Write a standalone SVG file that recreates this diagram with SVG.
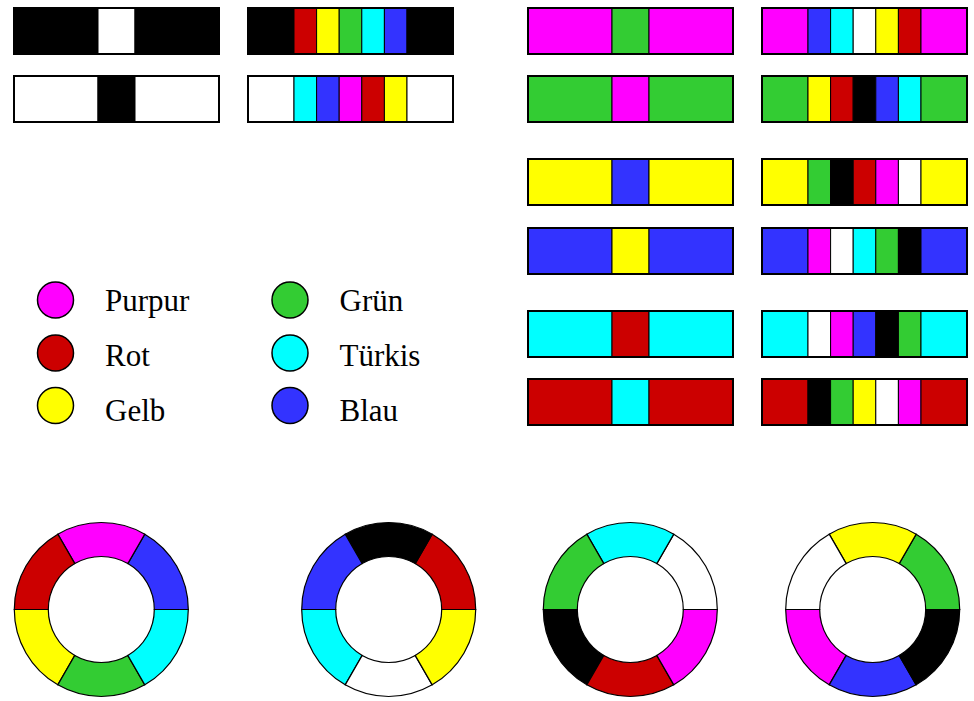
<svg xmlns="http://www.w3.org/2000/svg" width="974" height="701" viewBox="0 0 974 701">
<style>
.s{stroke:#000;stroke-width:1}
.o{fill:none;stroke:#000;stroke-width:2}
.k{fill:#000}.w{fill:#fff}.m{fill:#ff00ff}.g{fill:#33cc33}.r{fill:#cc0000}.y{fill:#ffff00}.c{fill:#00ffff}.b{fill:#3333ff}
.lc{stroke:#000;stroke-width:1.5}
.t{font-family:"Liberation Serif","Times New Roman",serif;font-size:31px;fill:#000}
.ring use{stroke:#000;stroke-width:1.2}
</style>
<defs>
<path id="s0" d="M87,0 A87,87 0 0,0 43.5,-75.34 L26.5,-45.9 A53,53 0 0,1 53,0 Z"/>
<path id="s1" d="M43.5,-75.34 A87,87 0 0,0 -43.5,-75.34 L-26.5,-45.9 A53,53 0 0,1 26.5,-45.9 Z"/>
<path id="s2" d="M-43.5,-75.34 A87,87 0 0,0 -87,0 L-53,0 A53,53 0 0,1 -26.5,-45.9 Z"/>
<path id="s3" d="M-87,0 A87,87 0 0,0 -43.5,75.34 L-26.5,45.9 A53,53 0 0,1 -53,0 Z"/>
<path id="s4" d="M-43.5,75.34 A87,87 0 0,0 43.5,75.34 L26.5,45.9 A53,53 0 0,1 -26.5,45.9 Z"/>
<path id="s5" d="M43.5,75.34 A87,87 0 0,0 87,0 L53,0 A53,53 0 0,1 26.5,45.9 Z"/>
</defs>

<!-- three-segment bars -->
<g id="bar-kwk" transform="translate(14,8)">
<rect class="s k" x="0" y="0" width="84" height="46"/><rect class="s w" x="84" y="0" width="37" height="46"/><rect class="s k" x="121" y="0" width="84" height="46"/><rect class="o" x="0" y="0" width="205" height="46"/>
</g>
<g id="bar-wkw" transform="translate(14,76)">
<rect class="s w" x="0" y="0" width="84" height="46"/><rect class="s k" x="84" y="0" width="37" height="46"/><rect class="s w" x="121" y="0" width="84" height="46"/><rect class="o" x="0" y="0" width="205" height="46"/>
</g>
<g id="bar-mgm" transform="translate(528,8)">
<rect class="s m" x="0" y="0" width="84" height="46"/><rect class="s g" x="84" y="0" width="37" height="46"/><rect class="s m" x="121" y="0" width="84" height="46"/><rect class="o" x="0" y="0" width="205" height="46"/>
</g>
<g id="bar-gmg" transform="translate(528,76)">
<rect class="s g" x="0" y="0" width="84" height="46"/><rect class="s m" x="84" y="0" width="37" height="46"/><rect class="s g" x="121" y="0" width="84" height="46"/><rect class="o" x="0" y="0" width="205" height="46"/>
</g>
<g id="bar-yby" transform="translate(528,159)">
<rect class="s y" x="0" y="0" width="84" height="46"/><rect class="s b" x="84" y="0" width="37" height="46"/><rect class="s y" x="121" y="0" width="84" height="46"/><rect class="o" x="0" y="0" width="205" height="46"/>
</g>
<g id="bar-byb" transform="translate(528,228)">
<rect class="s b" x="0" y="0" width="84" height="46"/><rect class="s y" x="84" y="0" width="37" height="46"/><rect class="s b" x="121" y="0" width="84" height="46"/><rect class="o" x="0" y="0" width="205" height="46"/>
</g>
<g id="bar-crc" transform="translate(528,311)">
<rect class="s c" x="0" y="0" width="84" height="46"/><rect class="s r" x="84" y="0" width="37" height="46"/><rect class="s c" x="121" y="0" width="84" height="46"/><rect class="o" x="0" y="0" width="205" height="46"/>
</g>
<g id="bar-rcr" transform="translate(528,379)">
<rect class="s r" x="0" y="0" width="84" height="46"/><rect class="s c" x="84" y="0" width="37" height="46"/><rect class="s r" x="121" y="0" width="84" height="46"/><rect class="o" x="0" y="0" width="205" height="46"/>
</g>

<!-- seven-segment bars -->
<g id="bar-k-spectrum" transform="translate(248,8)">
<rect class="s k" x="0" y="0" width="46" height="46"/><rect class="s r" x="46" y="0" width="22.6" height="46"/><rect class="s y" x="68.6" y="0" width="22.6" height="46"/><rect class="s g" x="91.2" y="0" width="22.6" height="46"/><rect class="s c" x="113.8" y="0" width="22.6" height="46"/><rect class="s b" x="136.4" y="0" width="22.6" height="46"/><rect class="s k" x="159" y="0" width="46" height="46"/><rect class="o" x="0" y="0" width="205" height="46"/>
</g>
<g id="bar-w-spectrum" transform="translate(248,76)">
<rect class="s w" x="0" y="0" width="46" height="46"/><rect class="s c" x="46" y="0" width="22.6" height="46"/><rect class="s b" x="68.6" y="0" width="22.6" height="46"/><rect class="s m" x="91.2" y="0" width="22.6" height="46"/><rect class="s r" x="113.8" y="0" width="22.6" height="46"/><rect class="s y" x="136.4" y="0" width="22.6" height="46"/><rect class="s w" x="159" y="0" width="46" height="46"/><rect class="o" x="0" y="0" width="205" height="46"/>
</g>
<g id="bar-m-spectrum" transform="translate(762,8)">
<rect class="s m" x="0" y="0" width="46" height="46"/><rect class="s b" x="46" y="0" width="22.6" height="46"/><rect class="s c" x="68.6" y="0" width="22.6" height="46"/><rect class="s w" x="91.2" y="0" width="22.6" height="46"/><rect class="s y" x="113.8" y="0" width="22.6" height="46"/><rect class="s r" x="136.4" y="0" width="22.6" height="46"/><rect class="s m" x="159" y="0" width="46" height="46"/><rect class="o" x="0" y="0" width="205" height="46"/>
</g>
<g id="bar-g-spectrum" transform="translate(762,76)">
<rect class="s g" x="0" y="0" width="46" height="46"/><rect class="s y" x="46" y="0" width="22.6" height="46"/><rect class="s r" x="68.6" y="0" width="22.6" height="46"/><rect class="s k" x="91.2" y="0" width="22.6" height="46"/><rect class="s b" x="113.8" y="0" width="22.6" height="46"/><rect class="s c" x="136.4" y="0" width="22.6" height="46"/><rect class="s g" x="159" y="0" width="46" height="46"/><rect class="o" x="0" y="0" width="205" height="46"/>
</g>
<g id="bar-y-spectrum" transform="translate(762,159)">
<rect class="s y" x="0" y="0" width="46" height="46"/><rect class="s g" x="46" y="0" width="22.6" height="46"/><rect class="s k" x="68.6" y="0" width="22.6" height="46"/><rect class="s r" x="91.2" y="0" width="22.6" height="46"/><rect class="s m" x="113.8" y="0" width="22.6" height="46"/><rect class="s w" x="136.4" y="0" width="22.6" height="46"/><rect class="s y" x="159" y="0" width="46" height="46"/><rect class="o" x="0" y="0" width="205" height="46"/>
</g>
<g id="bar-b-spectrum" transform="translate(762,228)">
<rect class="s b" x="0" y="0" width="46" height="46"/><rect class="s m" x="46" y="0" width="22.6" height="46"/><rect class="s w" x="68.6" y="0" width="22.6" height="46"/><rect class="s c" x="91.2" y="0" width="22.6" height="46"/><rect class="s g" x="113.8" y="0" width="22.6" height="46"/><rect class="s k" x="136.4" y="0" width="22.6" height="46"/><rect class="s b" x="159" y="0" width="46" height="46"/><rect class="o" x="0" y="0" width="205" height="46"/>
</g>
<g id="bar-c-spectrum" transform="translate(762,311)">
<rect class="s c" x="0" y="0" width="46" height="46"/><rect class="s w" x="46" y="0" width="22.6" height="46"/><rect class="s m" x="68.6" y="0" width="22.6" height="46"/><rect class="s b" x="91.2" y="0" width="22.6" height="46"/><rect class="s k" x="113.8" y="0" width="22.6" height="46"/><rect class="s g" x="136.4" y="0" width="22.6" height="46"/><rect class="s c" x="159" y="0" width="46" height="46"/><rect class="o" x="0" y="0" width="205" height="46"/>
</g>
<g id="bar-r-spectrum" transform="translate(762,379)">
<rect class="s r" x="0" y="0" width="46" height="46"/><rect class="s k" x="46" y="0" width="22.6" height="46"/><rect class="s g" x="68.6" y="0" width="22.6" height="46"/><rect class="s y" x="91.2" y="0" width="22.6" height="46"/><rect class="s w" x="113.8" y="0" width="22.6" height="46"/><rect class="s m" x="136.4" y="0" width="22.6" height="46"/><rect class="s r" x="159" y="0" width="46" height="46"/><rect class="o" x="0" y="0" width="205" height="46"/>
</g>

<!-- legend -->
<g id="legend-purpur"><circle class="lc m" cx="55.5" cy="300" r="18"/><text class="t" x="105" y="311">Purpur</text></g>
<g id="legend-rot"><circle class="lc r" cx="55.5" cy="353" r="18"/><text class="t" x="105" y="365.5">Rot</text></g>
<g id="legend-gelb"><circle class="lc y" cx="55.5" cy="405.5" r="18"/><text class="t" x="105" y="420.5">Gelb</text></g>
<g id="legend-gruen"><circle class="lc g" cx="290" cy="300" r="18"/><text class="t" x="339.5" y="311">Grün</text></g>
<g id="legend-tuerkis"><circle class="lc c" cx="290" cy="353" r="18"/><text class="t" x="339.5" y="365.5">Türkis</text></g>
<g id="legend-blau"><circle class="lc b" cx="290" cy="405.5" r="18"/><text class="t" x="339.5" y="420.5">Blau</text></g>

<!-- rings -->
<g id="ring1" class="ring" transform="translate(101.3,609.5)">
<use href="#s0" class="b"/><use href="#s1" class="m"/><use href="#s2" class="r"/><use href="#s3" class="y"/><use href="#s4" class="g"/><use href="#s5" class="c"/>
</g>
<g id="ring2" class="ring" transform="translate(388.7,609.5)">
<use href="#s0" class="r"/><use href="#s1" class="k"/><use href="#s2" class="b"/><use href="#s3" class="c"/><use href="#s4" class="w"/><use href="#s5" class="y"/>
</g>
<g id="ring3" class="ring" transform="translate(630.3,609.5)">
<use href="#s0" class="w"/><use href="#s1" class="c"/><use href="#s2" class="g"/><use href="#s3" class="k"/><use href="#s4" class="r"/><use href="#s5" class="m"/>
</g>
<g id="ring4" class="ring" transform="translate(872.7,609.5)">
<use href="#s0" class="g"/><use href="#s1" class="y"/><use href="#s2" class="w"/><use href="#s3" class="m"/><use href="#s4" class="b"/><use href="#s5" class="k"/>
</g>
</svg>
